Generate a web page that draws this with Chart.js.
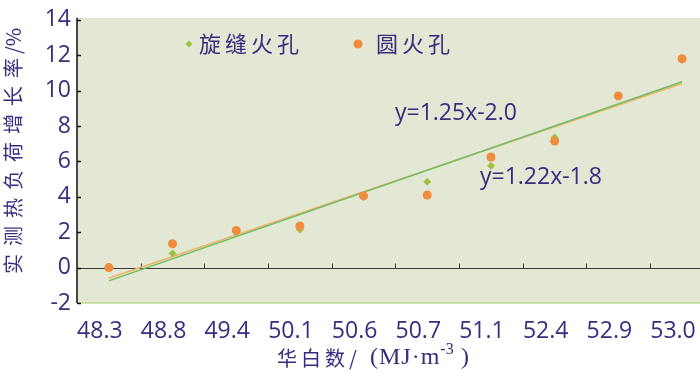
<!DOCTYPE html>
<html>
<head>
<meta charset="utf-8">
<script src="https://cdn.jsdelivr.net/npm/chart.js@4/dist/chart.umd.min.js"></script>
<style>
  html, body { margin: 0; padding: 0; overflow: hidden; background: #fff; }
  #wrap { width: 720px; height: 385px; }
</style>
</head>
<body>
<div id="wrap"><canvas id="c" width="720" height="385"></canvas></div>
<script>
const categories = ['48.3', '48.8', '49.4', '50.1', '50.6', '50.7', '51.1', '52.4', '52.9', '53.0'];
const xuanfeng = [0, 0.8, 2.0, 2.15, 4.0, 4.85, 5.75, 7.35, 9.7, 11.75];   // 旋缝火孔
const yuan = [0, 1.35, 2.1, 2.35, 4.05, 4.1, 6.25, 7.15, 9.7, 11.8];        // 圆火孔
// trend line ends, at first and last category
const trendXuanfeng = [-0.75, 10.5];
const trendYuan = [-0.6, 10.4];
const yMin = -2, yMax = 14, yStep = 2;

const purple = '#3b2b80';
const tickFont = { family: '"Open Sans"', size: 23 };

const ends = (vals) => [
  { x: categories[0], y: vals[0] },
  { x: categories[categories.length - 1], y: vals[1] }
];

const decor = {
  id: 'decor',
  beforeDraw(chart) {
    const { ctx, chartArea: a } = chart;
    ctx.save();
    ctx.fillStyle = '#e2e8d3';
    ctx.fillRect(a.left, a.top - 2, a.right - a.left, a.bottom - a.top + 2);
    ctx.restore();
  },
  beforeDatasetsDraw(chart) {
    const { ctx, chartArea: a, scales: { x, y } } = chart;
    ctx.save();
    // bottom border
    ctx.strokeStyle = '#bcd89a';
    ctx.lineWidth = 1.5;
    ctx.beginPath();
    ctx.moveTo(a.left, a.bottom);
    ctx.lineTo(a.right, a.bottom);
    ctx.stroke();
    // zero line with tick marks
    const y0 = Math.round(y.getPixelForValue(0)) + 0.5;
    ctx.strokeStyle = '#3a3a3a';
    ctx.lineWidth = 1;
    ctx.beginPath();
    ctx.moveTo(a.left, y0);
    ctx.lineTo(a.right, y0);
    for (let i = 1; i < categories.length; i++) {
      const px = Math.round((x.getPixelForValue(i - 1) + x.getPixelForValue(i)) / 2) + 0.5;
      ctx.moveTo(px, y0);
      ctx.lineTo(px, y0 - 5);
    }
    ctx.stroke();
    // y axis and inside ticks
    ctx.strokeStyle = '#111';
    ctx.lineWidth = 1.5;
    ctx.beginPath();
    ctx.moveTo(a.left, a.top - 2);
    ctx.lineTo(a.left, a.bottom);
    for (let v = yMin; v <= yMax; v += yStep) {
      const py = Math.round(y.getPixelForValue(v)) + 0.5;
      ctx.moveTo(a.left, py);
      ctx.lineTo(a.left + 4, py);
    }
    ctx.stroke();
    ctx.restore();
  },
  afterDraw(chart) {
    const { ctx } = chart;
    ctx.save();
    ctx.fillStyle = purple;
    ctx.textBaseline = 'middle';

    // y title
    ctx.save();
    ctx.translate(13, 0);
    ctx.rotate(-Math.PI / 2);
    ctx.textAlign = 'left';
    ctx.font = '20px "Noto Sans CJK SC"';
    ctx.letterSpacing = '8px';
    ctx.fillText('实测热负荷增长率', -274, 0);
    ctx.letterSpacing = '0px';
    ctx.fillText('/%', -54, 0);
    ctx.restore();

    // x title
    ctx.textAlign = 'left';
    const ty = 358;
    ctx.font = '20px "Noto Sans CJK SC"';
    ctx.letterSpacing = '4px';
    ctx.fillText('华白数/', 277, ty);
    ctx.letterSpacing = '1px';
    ctx.font = '24px "Liberation Serif"';
    ctx.fillText('(MJ·m', 370, ty);
    const mEnd = 370 + ctx.measureText('(MJ·m').width;
    ctx.letterSpacing = '0px';
    ctx.font = '16px "Liberation Serif"';
    ctx.fillText('-3', mEnd, ty - 8);
    ctx.font = '24px "Liberation Serif"';
    ctx.fillText(')', 461, ty);

    // legend
    ctx.font = '22px "Noto Sans CJK SC"';
    ctx.letterSpacing = '4px';
    ctx.fillStyle = '#a3bf45';
    ctx.beginPath();
    ctx.moveTo(189, 40.5); ctx.lineTo(192.5, 44); ctx.lineTo(189, 47.5); ctx.lineTo(185.5, 44);
    ctx.closePath();
    ctx.fill();
    ctx.fillStyle = '#f08d3d';
    ctx.beginPath();
    ctx.arc(358, 44, 4.5, 0, Math.PI * 2);
    ctx.fill();
    ctx.fillStyle = purple;
    ctx.fillText('旋缝火孔', 199, 44);
    ctx.fillText('圆火孔', 376, 44);

    // equations
    ctx.letterSpacing = '0px';
    ctx.font = '23px "Open Sans"';
    ctx.fillText('y=1.25x-2.0', 395, 113);
    ctx.fillText('y=1.22x-1.8', 480, 177);
    ctx.restore();
  }
};

new Chart(document.getElementById('c'), {
  type: 'line',
  data: {
    labels: categories,
    datasets: [
      {
        label: '圆火孔',
        data: yuan,
        showLine: false,
        pointStyle: 'circle',
        pointRadius: 4.5,
        pointBackgroundColor: '#f08d3d',
        pointBorderWidth: 0,
        order: 0
      },
      {
        label: '旋缝火孔',
        data: xuanfeng,
        showLine: false,
        pointStyle: 'rectRot',
        pointRadius: 4,
        pointBackgroundColor: '#a3bf45',
        pointBorderWidth: 0,
        order: 1
      },
      {
        label: 'trend 旋缝',
        data: ends(trendXuanfeng),
        borderColor: '#6dbd6a',
        borderWidth: 1.5,
        pointRadius: 0,
        order: 2
      },
      {
        label: 'trend 圆',
        data: ends(trendYuan),
        borderColor: '#f2b264',
        borderWidth: 1.5,
        pointRadius: 0,
        order: 3
      }
    ]
  },
  options: {
    responsive: false,
    animation: false,
    devicePixelRatio: 1,
    layout: { padding: { left: 0, right: 3, top: 12, bottom: 0 } },
    plugins: { legend: { display: false }, tooltip: { enabled: false } },
    scales: {
      x: {
        type: 'category',
        offset: true,
        grid: { display: false, drawTicks: false },
        border: { display: false },
        ticks: { font: tickFont, color: purple, padding: 15, labelOffset: -9, maxRotation: 0, autoSkip: false },
        afterFit(s) { s.height = 82; }
      },
      y: {
        min: yMin,
        max: yMax,
        grid: { display: false, drawTicks: false },
        border: { display: false },
        ticks: { stepSize: yStep, font: tickFont, color: purple, padding: 6 },
        afterFit(s) { s.width = 77; }
      }
    }
  },
  plugins: [decor]
});
</script>
</body>
</html>
